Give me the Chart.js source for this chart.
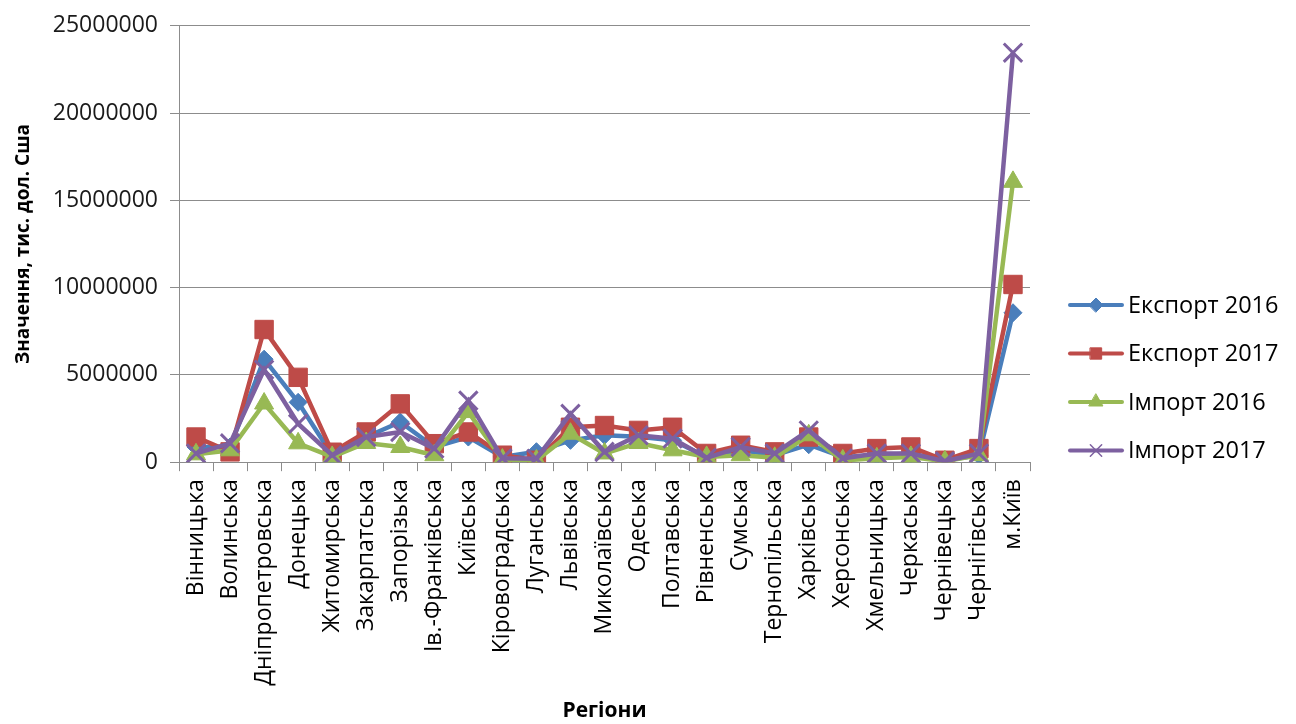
<!DOCTYPE html>
<html>
<head>
<meta charset="utf-8">
<script src="https://cdn.jsdelivr.net/npm/chart.js@4"></script>
<style>
  body { margin: 0; background: #fff; }
  canvas { display: block; }
</style>
</head>
<body>
<canvas id="tradeChart" width="1296" height="724"></canvas>
<script>
// Regions and series values (тис. дол. США)
const regions = ['Вінницька', 'Волинська', 'Дніпропетровська', 'Донецька', 'Житомирська',
    'Закарпатська', 'Запорізька', 'Ів.-Франківська', 'Київська', 'Кіровоградська',
    'Луганська', 'Львівська', 'Миколаївська', 'Одеська', 'Полтавська', 'Рівненська',
    'Сумська', 'Тернопільська', 'Харківська', 'Херсонська', 'Хмельницька', 'Черкаська',
    'Чернівецька', 'Чернігівська', 'м.Київ'];

const export2016 = [870000, 870000, 5900000, 3430000, 400000, 1440000, 2300000, 870000, 1440000, 300000,
    600000, 1250000, 1540000, 1450000, 1250000, 300000, 700000, 400000, 1000000, 300000,
    400000, 500000, 100000, 400000, 8560000];
const export2017 = [1440000, 590000, 7600000, 4860000, 570000, 1730000, 3340000, 1060000, 1730000, 400000,
    110000, 2000000, 2100000, 1820000, 2000000, 500000, 970000, 590000, 1440000, 500000,
    780000, 870000, 110000, 780000, 10180000];
const import2016 = [450000, 680000, 3360000, 1080000, 300000, 1100000, 870000, 400000, 2870000, 150000,
    100000, 1630000, 500000, 1100000, 680000, 300000, 400000, 250000, 1540000, 100000,
    220000, 300000, 50000, 400000, 16060000];
const import2017 = [500000, 1080000, 5300000, 2200000, 400000, 1440000, 1730000, 780000, 3530000, 220000,
    200000, 2770000, 590000, 1540000, 1350000, 250000, 870000, 500000, 1820000, 220000,
    500000, 500000, 50000, 500000, 23460000];

const yTicks = [0, 5000000, 10000000, 15000000, 20000000, 25000000];

const FONT = "'Open Sans', 'Liberation Sans', sans-serif";

function series(label, data, color, style, radius, order) {
    return {
        label: label,
        data: data,
        borderColor: color,
        backgroundColor: color,
        borderWidth: 4.5,
        tension: 0,
        pointStyle: style,
        pointRadius: radius,
        pointHoverRadius: radius,
        pointBorderWidth: style === 'crossRot' ? 3 : 1,
        order: order
    };
}

// Simple Excel-like legend: line with marker in the middle, text on the right
const sideLegend = {
    id: 'sideLegend',
    afterDraw(chart) {
        const ctx = chart.ctx;
        const x0 = 1070, x1 = 1122;
        const yStart = 305, gap = 48.5;
        ctx.save();
        chart.data.datasets.forEach((ds, i) => {
            const y = yStart + i * gap;
            ctx.strokeStyle = ds.borderColor;
            ctx.lineWidth = 4;
            ctx.lineCap = 'round';
            ctx.beginPath();
            ctx.moveTo(x0, y);
            ctx.lineTo(x1, y);
            ctx.stroke();
            ctx.fillStyle = ds.backgroundColor;
            ctx.lineWidth = ds.pointStyle === 'crossRot' ? 1.5 : 1;
            Chart.helpers.drawPoint(ctx, {
                pointStyle: ds.pointStyle,
                radius: ds.pointStyle === 'rectRot' ? 7 : 8,
                rotation: 0,
                borderWidth: ctx.lineWidth
            }, (x0 + x1) / 2, y);
            ctx.fillStyle = '#000';
            ctx.font = '23.5px ' + FONT;
            ctx.textBaseline = 'middle';
            ctx.textAlign = 'left';
            ctx.fillText(ds.label, x1 + 6, y + 1);
        });
        ctx.restore();
    }
};

new Chart(document.getElementById('tradeChart').getContext('2d'), {
    type: 'line',
    data: {
        labels: regions,
        datasets: [
            series('Експорт 2016', export2016, '#4A7EBB', 'rectRot', 9, 4),
            series('Експорт 2017', export2017, '#BE4B48', 'rect', 13, 3),
            series('Імпорт 2016', import2016, '#98B954', 'triangle', 11, 2),
            series('Імпорт 2017', import2017, '#7D60A0', 'crossRot', 13, 1)
        ]
    },
    plugins: [sideLegend],
    options: {
        responsive: false,
        animation: false,
        layout: { padding: { left: 12, right: 266, top: 19, bottom: 0 } },
        plugins: {
            legend: { display: false },
            tooltip: { enabled: false }
        },
        scales: {
            x: {
                offset: true,
                grid: {
                    offset: true,
                    drawOnChartArea: false,
                    drawTicks: true,
                    tickLength: 9,
                    color: '#8c8c8c',
                    lineWidth: 1
                },
                border: { color: '#8c8c8c', width: 1 },
                ticks: {
                    autoSkip: false,
                    minRotation: 90,
                    maxRotation: 90,
                    color: '#000',
                    padding: 8,
                    font: { family: FONT, size: 23 }
                },
                title: {
                    display: true,
                    text: 'Регіони',
                    color: '#000',
                    padding: { top: 5, bottom: 0 },
                    font: { family: FONT, size: 21, weight: 'bold' }
                }
            },
            y: {
                min: 0,
                max: 25000000,
                afterBuildTicks(scale) {
                    scale.ticks = yTicks.map(v => ({ value: v }));
                },
                grid: {
                    color: '#8c8c8c',
                    lineWidth: 1,
                    tickLength: 9
                },
                border: { color: '#8c8c8c', width: 1 },
                ticks: {
                    color: '#1a1a1a',
                    padding: 12,
                    font: { family: FONT, size: 23 },
                    callback: v => String(v)
                },
                title: {
                    display: true,
                    text: 'Значення, тис. дол. Сша',
                    color: '#000',
                    padding: { top: 0, bottom: 6 },
                    font: { family: FONT, size: 19, weight: 'bold' }
                }
            }
        }
    }
});
</script>
</body>
</html>
